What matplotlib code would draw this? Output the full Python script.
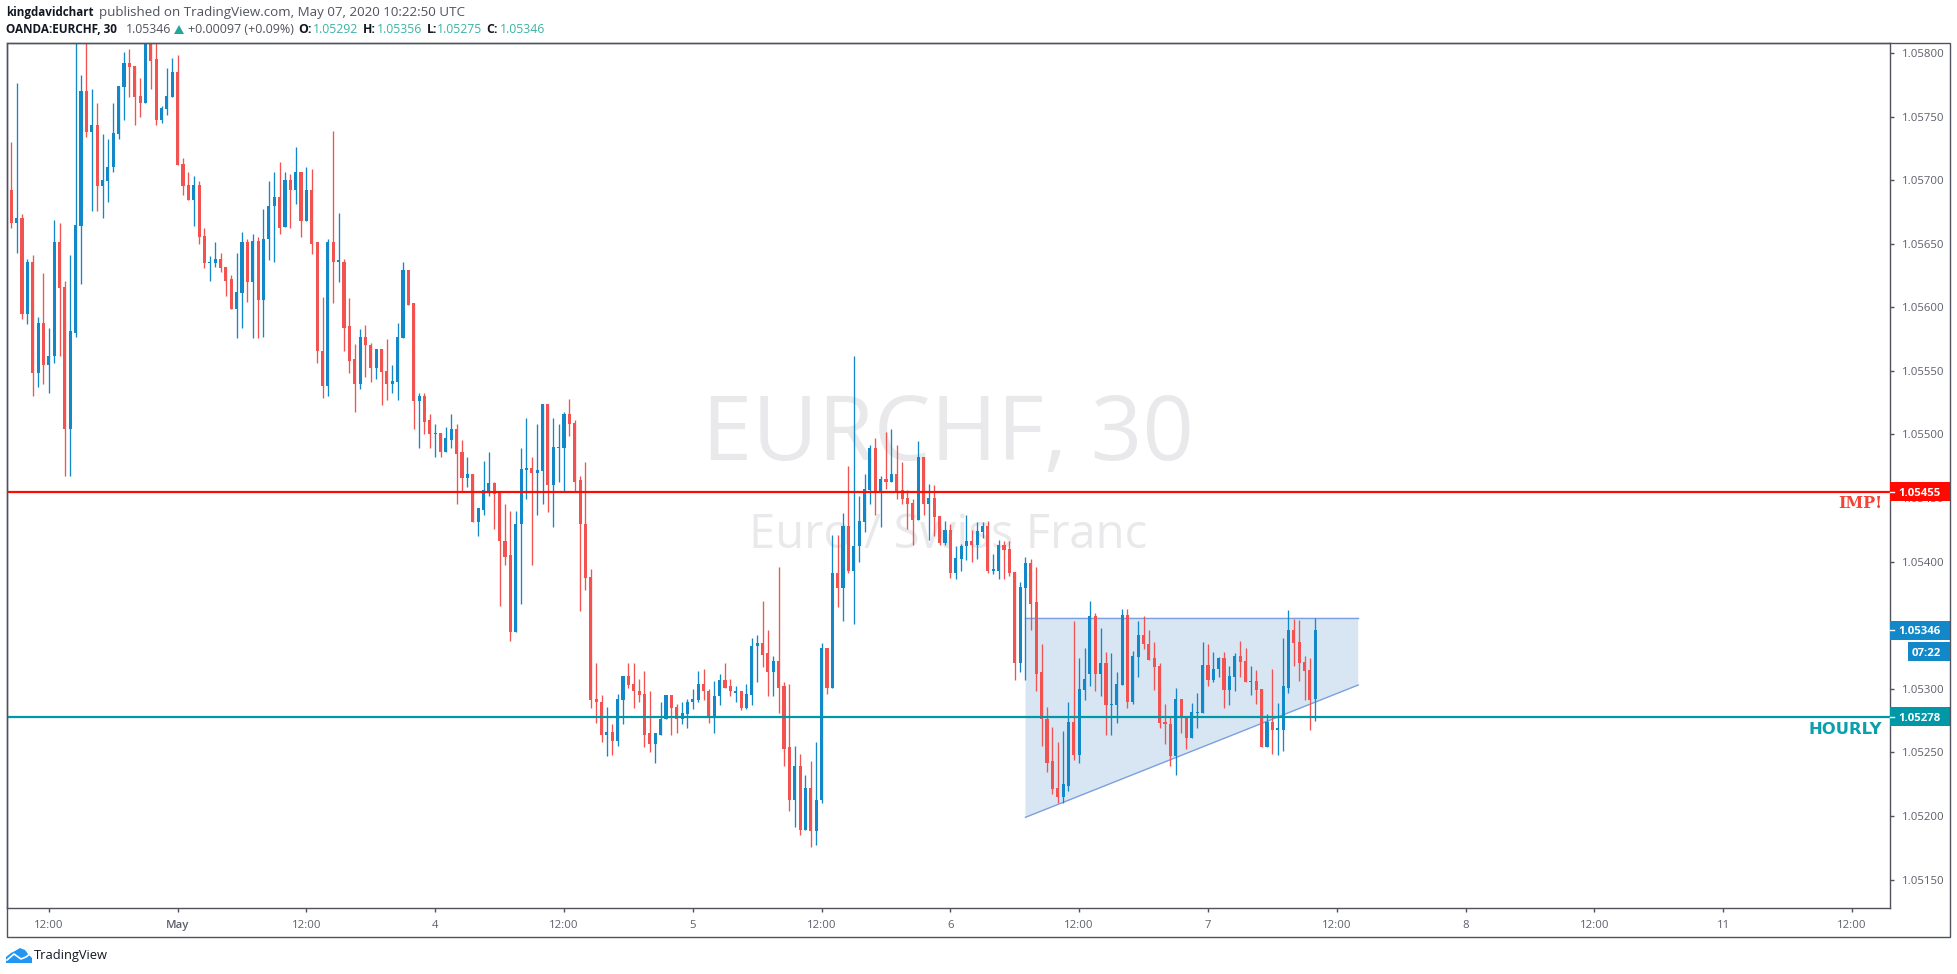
import matplotlib
matplotlib.use('Agg')
import matplotlib.pyplot as plt
import numpy as np
from matplotlib.patches import Rectangle, Polygon

plt.rcParams['font.family'] = ['Open Sans', 'DejaVu Sans']

# EURCHF 30 minute candles, in points (1/100000) above 1.05000
base_price = 1.05
highs = [772,
    730,776,673,638,641,592,627,584,669,666,
    621,641,820,783,815,772,761,736,732,761,
    774,801,803,790,780,820,825,815,758,788,
    796,798,717,706,703,699,662,640,651,643,
    632,625,643,659,654,658,655,677,699,706,
    714,706,705,726,706,710,709,651,608,654,
    739,674,638,607,571,583,586,572,567,567,
    575,555,588,636,629,603,533,533,516,508,
    501,506,516,508,496,482,469,442,479,486,
    463,455,445,440,440,489,513,482,508,524,
    524,513,508,518,528,511,467,478,394,320,
    295,286,272,296,310,320,320,308,314,298,
    265,290,295,295,288,290,292,300,314,316,
    300,306,312,320,308,302,298,304,340,342,
    369,346,326,396,305,304,255,249,232,243,
    258,336,332,421,421,438,475,562,452,469,
    492,497,467,502,504,492,478,456,449,495,
    482,461,460,436,432,430,412,414,437,425,
    431,431,432,406,417,416,416,392,384,404,
    402,396,335,286,270,258,267,290,353,324,
    332,369,360,348,329,328,313,363,363,330,
    353,357,346,337,320,288,279,301,292,279,
    289,297,337,335,329,325,329,318,328,338,
    332,318,315,300,280,316,289,340,362,355,
    354,326,324,356]
lows = [692,
    662,643,591,587,530,537,540,533,556,562,
    467,467,577,618,734,676,676,670,683,706,
    732,747,765,743,750,761,772,743,745,751,
    765,712,688,684,664,650,631,621,632,628,
    609,599,576,584,604,576,576,577,637,636,
    658,663,662,681,655,668,642,556,529,530,
    603,620,566,548,518,536,545,541,544,523,
    527,533,527,576,602,504,489,500,489,482,
    482,486,489,445,455,459,431,420,437,452,
    426,365,397,338,345,367,449,397,437,445,
    439,427,463,455,499,455,361,378,285,273,
    258,247,248,255,272,301,285,290,254,250,
    242,264,276,264,265,272,269,284,290,291,
    273,265,287,301,294,290,283,284,287,305,
    317,294,294,281,239,204,191,185,189,176,
    177,210,296,301,364,353,391,351,400,423,
    445,437,427,457,463,449,445,426,413,433,
    437,417,420,413,413,387,386,393,401,400,
    402,419,391,390,386,386,389,307,313,307,
    346,298,255,235,217,210,210,220,244,242,
    291,302,298,294,264,264,273,303,285,288,
    309,331,323,299,269,257,239,232,265,253,
    261,269,281,302,305,309,285,287,298,309,
    305,295,288,254,254,249,248,251,297,318,
    306,291,268,275]
opens = [772,
    692,666,670,595,636,548,588,555,562,651,
    616,504,580,664,770,738,743,695,699,710,
    736,773,792,790,766,761,815,795,747,756,
    765,785,713,696,684,696,656,635,635,638,
    632,622,599,611,651,620,652,606,654,680,
    687,663,700,692,706,668,692,651,566,538,
    651,636,636,585,559,540,577,570,552,567,
    550,540,541,576,629,603,526,530,511,500,
    501,486,496,504,486,466,469,431,441,455,
    462,455,416,405,345,430,472,474,470,471,
    524,460,489,489,516,509,464,430,388,292,
    290,264,266,259,291,310,304,298,296,265,
    257,264,276,295,286,276,280,290,291,304,
    298,278,294,307,302,297,298,285,295,334,
    336,328,313,322,302,254,213,239,189,222,
    188,213,332,301,391,379,428,393,412,431,
    456,489,454,465,463,469,456,450,446,433,
    482,445,450,436,415,425,391,402,412,416,
    413,423,428,393,393,413,410,392,320,379,
    399,368,313,276,243,222,215,224,274,248,
    299,312,357,312,320,287,287,303,358,290,
    325,342,335,324,318,274,272,247,292,279,
    261,281,281,319,307,316,324,299,309,326,
    322,305,306,300,254,274,268,268,301,346,
    337,321,315,292]
closes = [692,
    666,670,595,636,548,588,555,562,651,615,
    504,581,665,770,738,743,695,700,710,737,
    774,792,789,765,761,815,794,747,757,766,
    785,712,695,684,696,655,635,636,638,631,
    621,599,612,651,620,652,606,654,680,687,
    662,700,692,706,668,692,650,566,538,651,
    636,637,584,558,540,577,570,552,567,549,
    540,542,577,629,602,526,530,510,500,501,
    486,497,504,485,466,469,431,442,456,462,
    453,416,404,345,430,473,474,470,472,524,
    460,490,490,516,508,463,430,387,291,290,
    264,266,259,292,310,303,298,295,264,257,
    265,276,295,285,276,281,290,292,304,298,
    277,294,307,301,298,298,285,296,334,336,
    327,313,322,301,253,213,239,189,222,188,
    213,332,301,391,379,428,393,412,432,457,
    489,454,465,463,469,455,449,445,433,482,
    445,450,435,415,425,391,403,412,416,413,
    424,428,393,394,413,409,391,320,380,399,
    367,312,276,242,221,215,225,274,248,300,
    308,357,312,320,287,288,304,358,290,326,
    342,335,323,317,273,272,247,292,279,261,
    282,282,319,307,316,324,299,310,326,321,
    305,306,299,254,274,268,269,302,346,336,
    320,314,291,346]

price_ticks = [1.058, 1.0575, 1.057, 1.0565, 1.056, 1.0555, 1.055, 1.0545,
               1.054, 1.0535, 1.053, 1.0525, 1.052, 1.0515]
time_ticks = [7, 31, 55, 79, 103, 127, 151, 175, 199, 223, 247, 271, 295, 319, 343]
time_labels = ['12:00', 'May', '12:00', '4', '12:00', '5', '12:00', '6',
               '12:00', '7', '12:00', '8', '12:00', '11', '12:00']

imp_level = 1.05455
hourly_level = 1.05278
last_price = 1.05346

# triangle pattern drawn on the chart: bar number, price
triangle_x = [189, 251, 251, 189]
triangle_y = [1.05356, 1.05356, 1.05303, 1.05199]

BLUE = '#1288c9'
RED = '#f25350'
TEAL = '#0097a7'
LINE_RED = '#ff0a00'
GREY = '#50535e'
TICK_GREY = '#5d606b'
WATERMARK = '#e9e9eb'
GREEN = '#3cb3a4'

W, H = 1957, 974
fig = plt.figure(figsize=(W / 100, H / 100), dpi=100, facecolor='white')
ax = fig.add_axes([6.5 / W, 1 - 908 / H, (1890 - 6.5) / W, (908 - 43) / H])

x = np.arange(-1, 244)
o = base_price + np.array(opens) / 1e5
c = base_price + np.array(closes) / 1e5
hi = base_price + np.array(highs) / 1e5
lo = base_price + np.array(lows) / 1e5
colors = [BLUE if cl >= op else RED for op, cl in zip(o, c)]

# watermark first, everything else goes over it
ax.text(0.5, 0.5445, 'EURCHF, 30', transform=ax.transAxes, ha='center', va='center',
        fontsize=65, color=WATERMARK, zorder=0)
ax.text(0.5, 0.4315, 'Euro / Swiss Franc', transform=ax.transAxes, ha='center', va='center',
        fontsize=34, color=WATERMARK, zorder=0)

ax.fill(triangle_x, triangle_y, color='#d8e6f3', linewidth=0, zorder=1)
ax.plot(triangle_x[:2], triangle_y[:2], color='#7b9fe0', lw=1.0, zorder=1.2)
ax.plot(triangle_x[2:], triangle_y[2:], color='#7b9fe0', lw=1.0, zorder=1.2)

ax.vlines(x, lo, hi, colors=colors, linewidth=0.95, zorder=2)
body_low = np.minimum(o, c)
body_h = np.maximum(np.abs(c - o), 0.00001)
ax.bar(x, body_h, bottom=body_low, width=0.58, color=colors, linewidth=0, zorder=2.1)

ax.axhline(imp_level, color=LINE_RED, lw=1.6, zorder=3)
ax.axhline(hourly_level, color=TEAL, lw=1.6, zorder=3)

ax.set_xlim(-0.89, 350.1)
ax.set_ylim(base_price + 127.7 / 1e5, base_price + 807.8 / 1e5)

ax.yaxis.tick_right()
ax.set_yticks(price_ticks)
ax.set_yticklabels(['%.5f' % p for p in price_ticks])
ax.set_xticks(time_ticks)
ax.set_xticklabels(time_labels)
ax.tick_params(axis='both', length=3, width=1, color=GREY, labelcolor=TICK_GREY, labelsize=8.2)
ax.tick_params(axis='x', pad=5.5)
ax.tick_params(axis='y', pad=5.5)
for s in ax.spines.values():
    s.set_color(GREY)
    s.set_linewidth(1)
ax.spines['left'].set_zorder(1)  # the clipped first candle shows over the edge
ax.get_xticklabels()[1].set_fontweight('semibold')


# price badges on the right hand scale
def badge(price, color, label):
    h = 7.4e-5
    ax.add_patch(Rectangle((1.0, price - h), 60 / 1883.5, 2 * h, transform=ax.get_yaxis_transform(),
                           facecolor=color, edgecolor='none', clip_on=False, zorder=6))
    ax.plot([1.0, 4 / 1883.5 + 1.0], [price, price], color='white', lw=1, transform=ax.get_yaxis_transform(),
            clip_on=False, zorder=7)
    ax.text(1 + 51 / 1883.5, price, label, transform=ax.get_yaxis_transform(), ha='right', va='center_baseline',
            color='white', fontsize=8.2, fontweight='bold', clip_on=False, zorder=7)


badge(imp_level, LINE_RED, '1.05455')
badge(last_price, BLUE, '1.05346')
badge(hourly_level, TEAL, '1.05278')

# pixel overlay for the chrome round the chart
ov = fig.add_axes([0, 0, 1, 1], facecolor='none')
ov.set_xlim(0, W)
ov.set_ylim(H, 0)
ov.axis('off')
ov.add_patch(Rectangle((6.5, 43), 1943.5, 894, fill=False, edgecolor=GREY, lw=1))

# countdown badge
ov.add_patch(Rectangle((1908, 642), 42, 19, facecolor=BLUE, edgecolor='none'))
ov.text(1941, 651.5, '07:22', ha='right', va='center_baseline', color='white', fontsize=8.2, fontweight='bold')

# line captions
ov.text(1882, 504, 'IMP!', ha='right', va='center', color='#f44336', fontsize=11.5, fontweight='bold',
        family='DejaVu Serif')
ov.text(1882, 730, 'HOURLY', ha='right', va='center', color='#0a9fac', fontsize=11.8, fontweight='bold',
        family='DejaVu Sans')

# header lines
DARK = '#131722'
HEAD = '#50535e'
ov.text(6.5, 12.5, 'kingdavidchart', va='center', fontsize=8.4, fontweight='bold', color=DARK)
ov.text(99, 12.5, 'published on TradingView.com, May 07, 2020 10:22:50 UTC', va='center', fontsize=9.6, color=HEAD)
ov.text(6.5, 29.5, 'OANDA:EURCHF, 30', va='center', fontsize=8.5, fontweight='bold', color=DARK)
ov.text(125.7, 29.5, '1.05346', va='center', fontsize=8.8, color=HEAD)
ov.add_patch(Polygon([[174, 34], [184, 34], [179, 25]], closed=True, facecolor='#26a69a', edgecolor='none'))
ov.text(188, 29.5, '+0.00097 (+0.09%)', va='center', fontsize=9.0, color=HEAD)
for lab, lab_x, val, val_x in [('O:', 298, '1.05292', 312.7), ('H:', 362.7, '1.05356', 376.7),
                               ('L:', 426.7, '1.05275', 437.3), ('C:', 486.5, '1.05346', 500)]:
    ov.text(lab_x, 29.5, lab, va='center', fontsize=8.8, fontweight='bold', color=DARK)
    ov.text(val_x, 29.5, val, va='center', fontsize=8.8, color=GREEN)

# TradingView logo and name
LOGO = '#2196f3'
ov.add_patch(Polygon([[6, 963], [6, 957], [11, 953], [15, 951], [20, 948], [25, 950], [28, 954], [32, 958], [32, 963]],
                     closed=True, facecolor=LOGO, edgecolor='none', joinstyle='round'))
ov.plot([7, 14, 21, 26, 31], [960, 954, 959, 957, 953], color='white', lw=1.2)
ov.text(34, 955.5, 'TradingView', va='center', fontsize=9.3, color=DARK)

fig.savefig('out.png', dpi=100, facecolor='white')
